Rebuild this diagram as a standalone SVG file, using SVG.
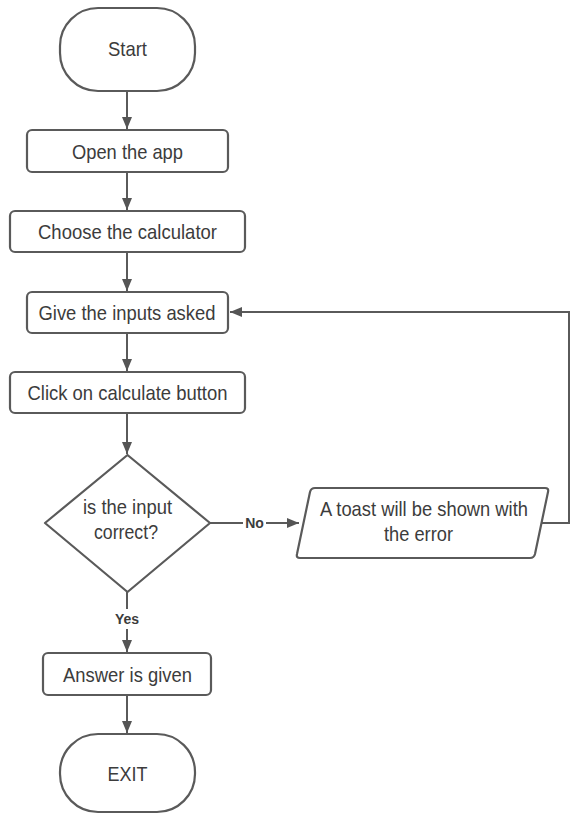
<svg xmlns="http://www.w3.org/2000/svg" width="570" height="814" viewBox="0 0 570 814">
  <defs>
    <marker id="arr" viewBox="0 0 12 10" refX="12" refY="5" markerWidth="12" markerHeight="10" markerUnits="userSpaceOnUse" orient="auto">
      <path d="M0,0 L12,5 L0,10 Z" fill="#555"/>
    </marker>
    <style>
      .shape { fill: #fff; stroke: #5a5a5a; stroke-width: 2.2; }
      .lbl { font-family: "Liberation Sans", Arial, sans-serif; font-size: 21px; fill: #3c3c3c; text-anchor: middle; }
      .elbl { font-family: "Liberation Sans", Arial, sans-serif; font-size: 14px; font-weight: bold; fill: #3c3c3c; text-anchor: middle; }
      .conn { fill: none; stroke: #5a5a5a; stroke-width: 2; }
    </style>
  </defs>
  <rect width="570" height="814" fill="#fff"/>

  <g id="connectors">
    <line class="conn" x1="127" y1="91" x2="127" y2="129" marker-end="url(#arr)"/>
    <line class="conn" x1="127" y1="172" x2="127" y2="210" marker-end="url(#arr)"/>
    <line class="conn" x1="127" y1="252" x2="127" y2="291" marker-end="url(#arr)"/>
    <line class="conn" x1="127" y1="333" x2="127" y2="371" marker-end="url(#arr)"/>
    <line class="conn" x1="127" y1="413" x2="127" y2="454" marker-end="url(#arr)"/>
    <path class="conn" d="M210,523 H243 M266,523 H299" marker-end="url(#arr)"/>
    <text class="elbl" x="254.5" y="528">No</text>
    <path class="conn" d="M127,592 V609 M127,629 V652" marker-end="url(#arr)"/>
    <text class="elbl" x="127" y="624">Yes</text>
    <line class="conn" x1="127" y1="695" x2="127" y2="733" marker-end="url(#arr)"/>
    <path class="conn" d="M542,523 H569 V312 H230" marker-end="url(#arr)"/>
  </g>

  <g id="start">
    <rect class="shape" x="60" y="8" width="135" height="83" rx="38" ry="38"/>
    <text class="lbl" x="127.5" y="56" textLength="39" lengthAdjust="spacingAndGlyphs">Start</text>
  </g>
  <g id="open-app">
    <rect class="shape" x="27" y="130" width="201" height="42" rx="5"/>
    <text class="lbl" x="127.5" y="159" textLength="111" lengthAdjust="spacingAndGlyphs">Open the app</text>
  </g>
  <g id="choose-calculator">
    <rect class="shape" x="10" y="211" width="235" height="41" rx="5"/>
    <text class="lbl" x="127.5" y="239" textLength="179" lengthAdjust="spacingAndGlyphs">Choose the calculator</text>
  </g>
  <g id="give-inputs">
    <rect class="shape" x="27" y="292" width="201" height="41" rx="5"/>
    <text class="lbl" x="127" y="320" textLength="177" lengthAdjust="spacingAndGlyphs">Give the inputs asked</text>
  </g>
  <g id="click-calculate">
    <rect class="shape" x="10" y="372" width="235" height="41" rx="5"/>
    <text class="lbl" x="127.5" y="400" textLength="200" lengthAdjust="spacingAndGlyphs">Click on calculate button</text>
  </g>
  <g id="decision">
    <polygon class="shape" points="127.5,455 210,523 127.5,592 45,523" stroke-linejoin="round"/>
    <text class="lbl" x="127.5" y="514" textLength="89" lengthAdjust="spacingAndGlyphs">is the input</text>
    <text class="lbl" x="126" y="539" textLength="64" lengthAdjust="spacingAndGlyphs">correct?</text>
  </g>
  <g id="toast">
    <path class="shape" d="M315,488 H545 Q549,488 548,492 L535,554 Q534,558 530,558 H300 Q296,558 297,554 L310,492 Q311,488 315,488 Z"/>
    <text class="lbl" x="424" y="516" textLength="208" lengthAdjust="spacingAndGlyphs">A toast will be shown with</text>
    <text class="lbl" x="418.5" y="541" textLength="69" lengthAdjust="spacingAndGlyphs">the error</text>
  </g>
  <g id="answer">
    <rect class="shape" x="43" y="653" width="168" height="42" rx="5"/>
    <text class="lbl" x="127.5" y="682" textLength="129" lengthAdjust="spacingAndGlyphs">Answer is given</text>
  </g>
  <g id="exit">
    <rect class="shape" x="60" y="734" width="135" height="78" rx="38" ry="38"/>
    <text class="lbl" x="127.5" y="781" textLength="40" lengthAdjust="spacingAndGlyphs">EXIT</text>
  </g>
</svg>
